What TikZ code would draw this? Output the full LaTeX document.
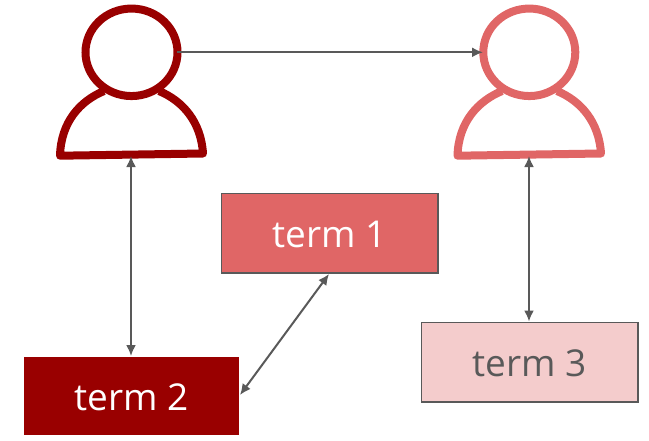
\documentclass[tikz,border=0pt]{standalone}
\usepackage{fontspec}
\setmainfont{Open Sans}
\usetikzlibrary{arrows.meta,shapes.geometric}
\definecolor{darkred}{HTML}{990000}
\definecolor{midred}{HTML}{E06666}
\definecolor{lightred}{HTML}{F4CCCC}
\definecolor{greyline}{HTML}{595959}
\tikzset{
  headshape/.style={ellipse,draw,line width=8pt,inner sep=0pt,minimum width=92pt,minimum height=87.5pt,anchor=center},
  bodyshape/.style={line width=8pt,line join=round,line cap=butt},
  termbox/.style={rectangle,inner sep=0pt,minimum width=216.5pt,minimum height=79.5pt,font=\fontsize{37}{44}\selectfont,text height=29pt,text depth=0pt},
  link/.style={draw=greyline,line width=2pt,{Latex[length=11pt,width=10pt]}-{Latex[length=11pt,width=10pt]}},
  onelink/.style={draw=greyline,line width=2pt,-{Latex[length=11pt,width=10pt]}}
}
\begin{document}
\begin{tikzpicture}[x=1pt,y=-1pt]
\useasboundingbox (0,0) rectangle (649,440);
% left person
\coordinate (bodyLfoot) at (131,156);
\draw[bodyshape,darkred] (104,91) .. controls (80,101) and (61,122) .. (60,155.7) -- (203,153.5) .. controls (201,122) and (183,101) .. (159,91);
\node[headshape,draw=darkred] (headL) at (131.5,52.3) {};
% right person
\coordinate (bodyRfoot) at (529,156);
\draw[bodyshape,midred] (502,91) .. controls (478,101) and (458.5,122) .. (457.5,155.7) -- (601,153.5) .. controls (599,122) and (581,101) .. (557,91);
\node[headshape,draw=midred] (headR) at (529.3,52.3) {};
% terms
\node[termbox,fill=midred,draw=greyline,line width=1.5pt,text=white] (t1) at (329.5,233) {term 1};
\node[termbox,fill=darkred,text=white,minimum width=215pt,minimum height=78pt] (t2) at (131.5,396) {term 2};
\node[termbox,fill=lightred,draw=greyline,line width=1.5pt,text=greyline] (t3) at (529.5,362) {term 3};
% connectors
\coordinate (headLe) at (177,52.3);
\coordinate (headRw) at (483,52.3);
\draw[onelink] (headLe) -- (headRw);
\coordinate (t2top) at (131,356);
\draw[link] (bodyLfoot) -- (t2top);
\coordinate (t3top) at (529,321.5);
\draw[link] (bodyRfoot) -- (t3top);
\coordinate (t1foot) at (329,274);
\coordinate (t2side) at (240,395);
\draw[link] (t1foot) -- (t2side);
\end{tikzpicture}
\end{document}
